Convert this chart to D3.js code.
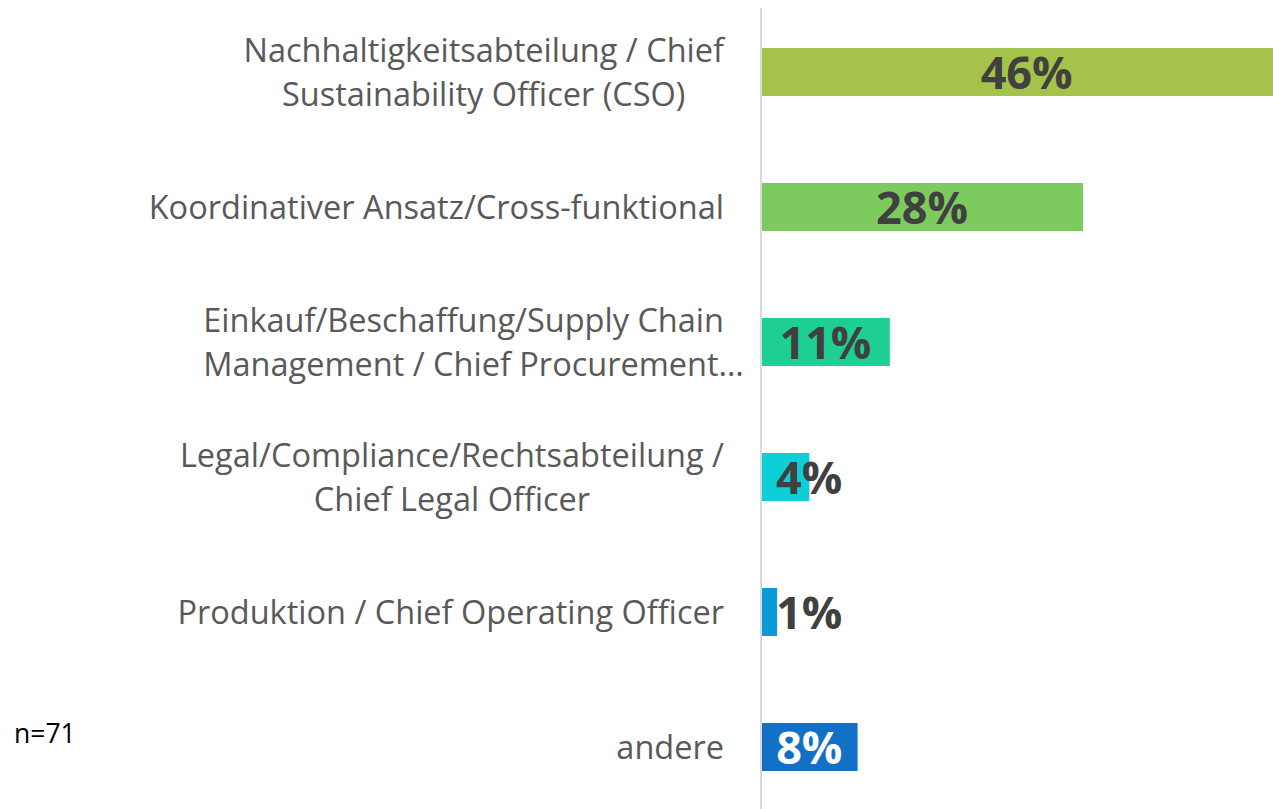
<!DOCTYPE html>
<html>
<head>
<meta charset="utf-8">
<script src="https://cdn.jsdelivr.net/npm/d3@7"></script>
<style>
  body { margin: 0; background: #fff; }
  svg { display: block; }
</style>
</head>
<body>
<div id="chart"></div>
<script>
// categories (each wrapped into its display lines)
var categories = [
  ["Nachhaltigkeitsabteilung / Chief", "Sustainability Officer (CSO)"],
  ["Koordinativer Ansatz/Cross-funktional"],
  ["Einkauf/Beschaffung/Supply Chain", "Management / Chief Procurement\u2026"],
  ["Legal/Compliance/Rechtsabteilung /", "Chief Legal Officer"],
  ["Produktion / Chief Operating Officer"],
  ["andere"]
];
// shares in percent (n = 71)
var values = [46.48, 28.17, 11.27, 4.23, 1.41, 8.45];
var valueLabels = ["46%", "28%", "11%", "4%", "1%", "8%"];
var colors = ["#a5c24a", "#7dcb5f", "#1ecf94", "#0ccfd8", "#0a9ad7", "#1270c6"];
var labelColors = ["#404040", "#404040", "#404040", "#404040", "#404040", "#ffffff"];
var note = "n=71";

var width = 1273, height = 809;
var x0 = 761, labelRight = 724;

var svg = d3.select("#chart").append("svg")
  .attr("width", width).attr("height", height);

var x = d3.scaleLinear().domain([0, 10]).range([x0, x0 + 114.3]);
var y = d3.scaleBand().domain(d3.range(values.length))
  .range([7.5, 811.5]).paddingInner(0.6444).paddingOuter(0.3);

var font = "'Open Sans', sans-serif";

// bars
svg.selectAll(".bar").data(values).enter().append("rect")
  .attr("class", "bar")
  .attr("x", x(0))
  .attr("y", function(d, i) { return y(i); })
  .attr("width", function(d) { return x(d) - x(0); })
  .attr("height", y.bandwidth())
  .attr("fill", function(d, i) { return colors[i]; });

// axis line
svg.append("line")
  .attr("x1", x0).attr("x2", x0)
  .attr("y1", 8).attr("y2", height)
  .attr("stroke", "#d9d9d9").attr("stroke-width", 2);

// category labels
var lineH = 44;
categories.forEach(function(lines, i) {
  var cy = y(i) + y.bandwidth() / 2;
  var g = svg.append("g");
  var top = cy - (lines.length - 1) * lineH / 2;
  var texts = lines.map(function(t, j) {
    return g.append("text")
      .attr("y", top + j * lineH)
      .attr("dy", "0.36em")
      .attr("font-family", font)
      .attr("font-size", 32.5)
      .attr("fill", "#595959")
      .text(t);
  });
  var w0 = texts[0].node().getComputedTextLength();
  var center = labelRight - w0 / 2;
  var left = labelRight - w0;
  texts.forEach(function(t, j) {
    if (/\u2026$/.test(lines[j])) {
      t.attr("x", left).attr("text-anchor", "start");
    } else {
      t.attr("x", center).attr("text-anchor", "middle");
    }
  });
});

// value labels
svg.selectAll(".val").data(values).enter().append("text")
  .attr("class", "val")
  .attr("y", function(d, i) { return y(i) + y.bandwidth() / 2; })
  .attr("dy", "0.38em")
  .attr("font-family", font)
  .attr("font-weight", "bold")
  .attr("font-size", 45)
  .attr("fill", function(d, i) { return labelColors[i]; })
  .attr("text-anchor", "middle")
  .text(function(d, i) { return valueLabels[i]; })
  .attr("x", function(d) {
    var w = this.getComputedTextLength();
    var c = (x(0) + x(d)) / 2;
    return Math.max(c, x(0) + 15 + w / 2);
  });

// sample note
svg.append("text")
  .attr("x", 14).attr("y", 743)
  .attr("font-family", font)
  .attr("font-size", 26.5)
  .attr("fill", "#000")
  .text(note);
</script>
</body>
</html>
